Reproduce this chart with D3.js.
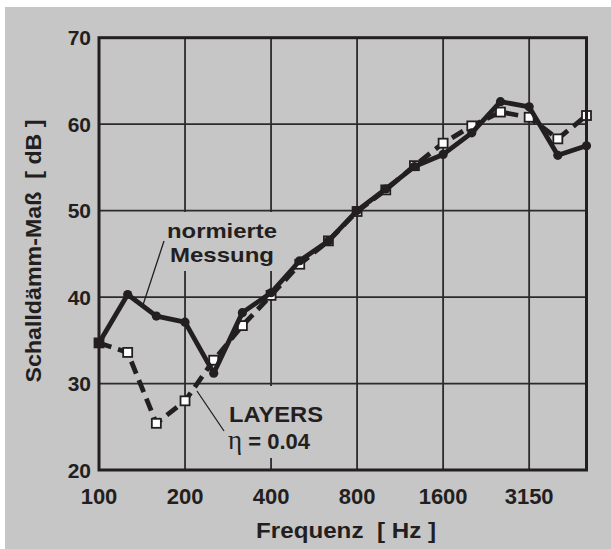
<!DOCTYPE html>
<html>
<head>
<meta charset="utf-8">
<script src="https://cdn.jsdelivr.net/npm/d3@7/dist/d3.min.js"></script>
<style>
  html, body { margin: 0; padding: 0; background: #ffffff; }
  svg { display: block; }
  text { font-family: "Liberation Sans", Arial, Helvetica, sans-serif; font-weight: bold; fill: #231f20; white-space: pre; }
</style>
</head>
<body>
<svg id="chart" width="611" height="549"></svg>
<script>
// ---- data ----
const frequencies = ["100","125","160","200","250","315","400","500","630","800","1000","1250","1600","2000","2500","3150","4000","5000"];
const measured = [34.7, 40.3, 37.8, 37.1, 31.2, 38.2, 40.5, 44.2, 46.5, 50.0, 52.5, 55.1, 56.5, 59.0, 62.6, 62.0, 56.4, 57.5];
const layers   = [34.7, 33.6, 25.4, 28.0, 32.7, 36.7, 40.2, 43.8, 46.5, 49.9, 52.4, 55.2, 57.8, 59.8, 61.4, 60.8, 58.3, 61.0];
const xTickLabels = ["100","200","400","800","1600","3150"];
const yTicks = [20, 30, 40, 50, 60, 70];

const dark = "#231f20";
const bg = "#c6c6c6";

const svg = d3.select("#chart");

// background panel
svg.append("rect").attr("x", 5).attr("y", 7).attr("width", 606).attr("height", 542).attr("fill", bg);

const x = d3.scalePoint().domain(frequencies).range([99, 586.5]);
const y = d3.scaleLinear().domain([20, 70]).range([470, 37.7]);

// grid
const grid = svg.append("g");
grid.selectAll("line.v").data(xTickLabels.slice(1)).enter().append("line")
  .attr("x1", d => x(d)).attr("x2", d => x(d))
  .attr("y1", y(70)).attr("y2", y(20))
  .attr("stroke", "#2b2b2b").attr("stroke-width", 1.8);
grid.selectAll("line.h").data(yTicks.slice(1, -1)).enter().append("line")
  .attr("x1", x("100")).attr("x2", x("5000"))
  .attr("y1", d => y(d)).attr("y2", d => y(d))
  .attr("stroke", "#2b2b2b").attr("stroke-width", 1.8);

// annotation background boxes (mask grid lines)
svg.append("rect").attr("x", 160).attr("y", 212).attr("width", 125).attr("height", 59).attr("fill", bg);
svg.append("rect").attr("x", 215).attr("y", 386).attr("width", 115).attr("height", 72).attr("fill", bg);

// leader lines
svg.append("line").attr("x1", 164).attr("y1", 241).attr("x2", 143).attr("y2", 305)
  .attr("stroke", dark).attr("stroke-width", 1.3);
svg.append("line").attr("x1", 197).attr("y1", 391).attr("x2", 224).attr("y2", 431)
  .attr("stroke", dark).attr("stroke-width", 1.3);

// annotation text
svg.append("text").attr("x", 222).attr("y", 238).attr("text-anchor", "middle")
  .attr("font-size", 21).attr("textLength", 110).attr("lengthAdjust", "spacingAndGlyphs").text("normierte");
svg.append("text").attr("x", 222).attr("y", 262).attr("text-anchor", "middle")
  .attr("font-size", 21).attr("textLength", 104).attr("lengthAdjust", "spacingAndGlyphs").text("Messung");
svg.append("text").attr("x", 229).attr("y", 422)
  .attr("font-size", 22).attr("textLength", 94).attr("lengthAdjust", "spacingAndGlyphs").text("LAYERS");
const eta = svg.append("text").attr("x", 228).attr("y", 449).attr("font-size", 22);
eta.append("tspan").attr("font-family", "'Liberation Serif', 'DejaVu Serif', serif").attr("font-weight", "normal")
  .attr("font-size", 27).text("η");
eta.append("tspan").text(" = 0.04");

// LAYERS series (dashed, squares)
const line = d3.line().x((d, i) => x(frequencies[i])).y(d => y(d));
svg.append("path").datum(layers).attr("d", line)
  .attr("fill", "none").attr("stroke", dark).attr("stroke-width", 4.8)
  .attr("stroke-dasharray", "13,7").attr("stroke-linejoin", "round");
svg.selectAll("rect.sq").data(layers).enter().append("rect")
  .attr("x", (d, i) => x(frequencies[i]) - 4.5).attr("y", d => y(d) - 4.5)
  .attr("width", 9).attr("height", 9)
  .attr("fill", (d, i) => i === 0 ? dark : "#ffffff")
  .attr("stroke", dark).attr("stroke-width", 1.8);

// measured series (solid, circles)
svg.append("path").datum(measured).attr("d", line)
  .attr("fill", "none").attr("stroke", dark).attr("stroke-width", 4.8).attr("stroke-linejoin", "round");
svg.selectAll("circle.pt").data(measured).enter().append("circle")
  .attr("cx", (d, i) => x(frequencies[i])).attr("cy", d => y(d)).attr("r", 4.6)
  .attr("fill", dark);

// frame
svg.append("rect").attr("x", x("100")).attr("y", y(70))
  .attr("width", x("5000") - x("100")).attr("height", y(20) - y(70))
  .attr("fill", "none").attr("stroke", dark).attr("stroke-width", 3);

// y tick labels
svg.selectAll("text.yt").data(yTicks).enter().append("text")
  .attr("x", 91).attr("y", d => y(d) + 7.5).attr("text-anchor", "end")
  .attr("font-size", 21).text(d => d);

// x tick labels
svg.selectAll("text.xt").data(xTickLabels).enter().append("text")
  .attr("x", d => x(d)).attr("y", 503.5).attr("text-anchor", "middle")
  .attr("font-size", 22).text(d => d);

// axis titles
svg.append("text").attr("x", 346).attr("y", 538).attr("text-anchor", "middle")
  .attr("font-size", 22).attr("textLength", 180).attr("lengthAdjust", "spacingAndGlyphs")
  .text("Frequenz  [ Hz ]");
svg.append("text").attr("transform", "translate(41,251) rotate(-90)").attr("text-anchor", "middle")
  .attr("font-size", 22).attr("textLength", 263).attr("lengthAdjust", "spacingAndGlyphs")
  .text("Schalldämm-Maß  [ dB ]");
</script>
</body>
</html>
